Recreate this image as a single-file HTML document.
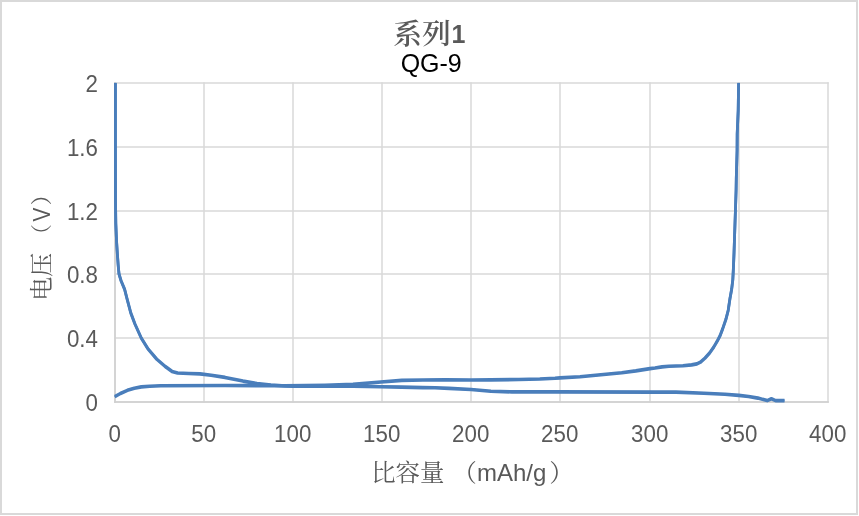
<!DOCTYPE html>
<html lang="zh">
<head>
<meta charset="utf-8">
<title>系列1 QG-9</title>
<style>
html,body{margin:0;padding:0;background:#fff;}
svg{display:block;}
.num text{font-family:"Liberation Sans",sans-serif;font-size:23.5px;fill:#595959;}
.cjk{font-family:"Liberation Serif","Noto Serif CJK SC",serif;}
.lat{font-family:"Liberation Sans",sans-serif;}
</style>
</head>
<body>
<svg width="859" height="516" viewBox="0 0 859 516">
<rect x="0" y="0" width="859" height="516" fill="#fff"/>
<rect x="1" y="1" width="856" height="513" fill="none" stroke="#d9d9d9" stroke-width="2"/>
<g stroke="#d9d9d9" stroke-width="1.5" fill="none">
<line x1="115" y1="82.25" x2="115" y2="402.75"/>
<line x1="204" y1="82.25" x2="204" y2="402.75"/>
<line x1="293" y1="82.25" x2="293" y2="402.75"/>
<line x1="382" y1="82.25" x2="382" y2="402.75"/>
<line x1="471" y1="82.25" x2="471" y2="402.75"/>
<line x1="560" y1="82.25" x2="560" y2="402.75"/>
<line x1="650" y1="82.25" x2="650" y2="402.75"/>
<line x1="739" y1="82.25" x2="739" y2="402.75"/>
<line x1="828" y1="82.25" x2="828" y2="402.75"/>
<line x1="114.25" y1="83" x2="828.75" y2="83"/>
<line x1="114.25" y1="147" x2="828.75" y2="147"/>
<line x1="114.25" y1="211" x2="828.75" y2="211"/>
<line x1="114.25" y1="274" x2="828.75" y2="274"/>
<line x1="114.25" y1="338" x2="828.75" y2="338"/>
<line x1="114.25" y1="402" x2="828.75" y2="402"/>
<line x1="115" y1="82.25" x2="115" y2="402.75" stroke="#cfcfcf"/>
<line x1="114.25" y1="402" x2="828.75" y2="402" stroke="#cfcfcf"/>
</g>
<clipPath id="pc"><rect x="114" y="82.8" width="716" height="321"/></clipPath>
<g clip-path="url(#pc)" fill="none" stroke="#4a7ebb" stroke-width="2.8" stroke-linejoin="round" stroke-linecap="butt">
<polyline points="115.4,82.4 115.4,150.0 115.5,200.0 115.8,223.0 116.5,240.0 117.4,254.0 118.2,265.0 119.0,273.5 121.1,280.5 124.6,288.9 127.1,298.7 130.8,312.6 135.0,323.7 141.3,337.7 148.3,348.9 156.7,358.7 165.1,366.0 172.0,371.0 177.6,372.6 188.8,373.1 200.0,373.5 211.2,374.9 225.0,377.0 243.0,380.7 257.0,383.1 270.9,384.6 284.9,385.6 293.2,385.9 325.0,385.8 353.0,385.8 380.9,386.3 401.8,386.7 422.8,387.2 435.0,387.4 449.0,388.0 471.0,389.1 490.9,390.9 511.8,391.5 555.0,391.5 655.0,391.7 676.0,391.7 703.9,392.8 724.9,393.8 738.8,395.0 748.6,396.1 757.9,397.7 767.2,400.2 771.4,398.4 775.6,400.2 784.5,400.2"/>
<polyline points="115.4,83.2 115.4,150.8 115.5,200.8 115.8,223.8 116.5,240.8 117.4,254.8 118.2,265.8 119.0,274.3 121.1,281.3 124.6,289.7 127.1,299.5 130.8,313.4 135.0,324.5 141.3,338.5 148.3,349.7 156.7,359.5 165.1,366.8 172.0,371.8 177.6,373.4 188.8,373.9 200.0,374.3 211.2,375.7 225.0,377.8 243.0,381.5 257.0,383.9 270.9,385.4 284.9,386.4 293.2,386.7 325.0,386.6 353.0,386.6 380.9,387.1 401.8,387.5 422.8,388.0 435.0,388.2 449.0,388.8 471.0,389.9 490.9,391.7 511.8,392.3 555.0,392.3 655.0,392.5 676.0,392.5 703.9,393.6 724.9,394.6 738.8,395.8 748.6,396.9 757.9,398.5 767.2,401.0 771.4,399.2 775.6,401.0 784.5,401.0"/>
<polyline points="114.8,396.3 120.4,393.1 127.4,389.9 134.3,387.8 141.3,386.5 149.7,385.8 160.9,385.4 225.0,385.1 285.0,385.3 325.0,384.8 353.0,384.0 380.9,381.6 401.8,380.0 422.8,379.6 445.0,379.3 471.0,379.6 490.9,379.5 518.8,379.1 539.8,378.6 555.0,377.9 560.0,377.5 580.0,376.3 600.9,374.4 621.8,372.4 635.8,370.5 650.0,368.2 655.0,367.6 662.0,366.5 669.0,365.8 683.0,365.4 691.6,364.5 696.9,363.5 700.4,361.8 705.0,357.7 709.7,352.5 713.8,346.6 717.2,340.8 720.2,335.0 722.6,328.6 725.8,319.3 728.2,310.0 730.0,297.9 731.7,288.6 732.8,279.3 733.3,270.0 734.0,253.3 734.5,238.0 735.4,211.0 736.1,190.0 736.3,177.9 737.1,150.0 737.2,133.3 738.2,110.0 738.6,82.4"/>
<polyline points="114.8,397.1 120.4,393.9 127.4,390.7 134.3,388.6 141.3,387.3 149.7,386.6 160.9,386.2 225.0,385.9 285.0,386.1 325.0,385.6 353.0,384.8 380.9,382.4 401.8,380.8 422.8,380.4 445.0,380.1 471.0,380.4 490.9,380.3 518.8,379.9 539.8,379.4 555.0,378.7 560.0,378.3 580.0,377.1 600.9,375.2 621.8,373.2 635.8,371.3 650.0,369.0 655.0,368.4 662.0,367.3 669.0,366.6 683.0,366.2 691.6,365.3 696.9,364.3 700.4,362.6 705.0,358.5 709.7,353.3 713.8,347.4 717.2,341.6 720.2,335.8 722.6,329.4 725.8,320.1 728.2,310.8 730.0,298.7 731.7,289.4 732.8,280.1 733.3,270.8 734.0,254.1 734.5,238.8 735.4,211.8 736.1,190.8 736.3,178.7 737.1,150.8 737.2,134.1 738.2,110.8 738.6,83.2"/>
</g>
<g class="num">
<text transform="translate(97.9,91.9) scale(0.95,1)" text-anchor="end">2</text>
<text transform="translate(97.9,155.9) scale(0.95,1)" text-anchor="end">1.6</text>
<text transform="translate(97.9,219.9) scale(0.95,1)" text-anchor="end">1.2</text>
<text transform="translate(97.9,282.9) scale(0.95,1)" text-anchor="end">0.8</text>
<text transform="translate(97.9,346.9) scale(0.95,1)" text-anchor="end">0.4</text>
<text transform="translate(97.9,410.9) scale(0.95,1)" text-anchor="end">0</text>
<text transform="translate(114.7,441.6) scale(0.95,1)" text-anchor="middle">0</text>
<text transform="translate(203.7,441.6) scale(0.95,1)" text-anchor="middle">50</text>
<text transform="translate(292.7,441.6) scale(0.95,1)" text-anchor="middle">100</text>
<text transform="translate(381.7,441.6) scale(0.95,1)" text-anchor="middle">150</text>
<text transform="translate(470.7,441.6) scale(0.95,1)" text-anchor="middle">200</text>
<text transform="translate(559.7,441.6) scale(0.95,1)" text-anchor="middle">250</text>
<text transform="translate(649.7,441.6) scale(0.95,1)" text-anchor="middle">300</text>
<text transform="translate(738.7,441.6) scale(0.95,1)" text-anchor="middle">350</text>
<text transform="translate(827.7,441.6) scale(0.95,1)" text-anchor="middle">400</text>
</g>
<text x="393.3" y="44.3" fill="#595959" font-size="28.8px" class="cjk" font-weight="600">系列</text>
<text x="451.4" y="42.9" fill="#595959" class="lat" font-weight="bold" font-size="25px">1</text>
<text x="431.2" y="72.1" text-anchor="middle" fill="#000" class="lat" font-size="25px">QG-9</text>
<text x="472.5" y="481.4" text-anchor="middle" fill="#595959" font-size="24.4px"><tspan class="cjk">比容量</tspan><tspan class="lat" font-size="24px"> </tspan><tspan class="cjk" dx="1.5">（</tspan><tspan class="lat" font-size="24px">mAh/g</tspan><tspan class="cjk" dx="3">）</tspan></text>
<g transform="translate(50.4,300.8) rotate(-90)" fill="#595959" font-size="24px">
<text x="0" y="0" class="cjk">电压</text>
<text x="55.2" y="-1" class="cjk" font-size="21.4px">（</text>
<text transform="translate(79.2,0) scale(0.9,1)" class="lat" font-size="23px">V</text>
<text x="95.5" y="-1" class="cjk" font-size="21.4px">）</text>
</g>
</svg>
</body>
</html>
